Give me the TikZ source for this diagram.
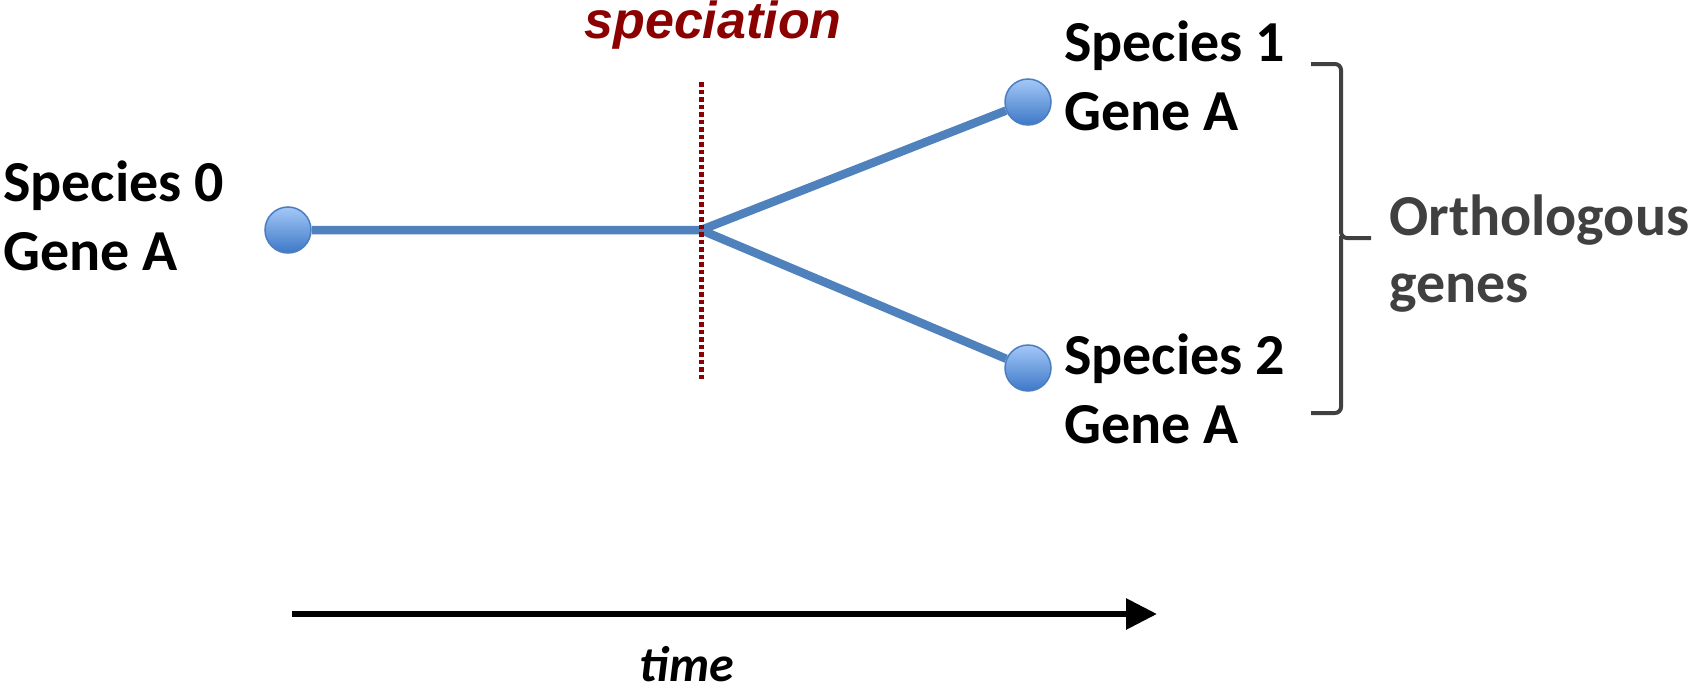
\documentclass[tikz,border=0pt]{standalone}
\usepackage{fontspec}
\setmainfont{Carlito}
\newfontfamily\arialfont{Liberation Sans}
\usepackage{xcolor}
\usetikzlibrary{arrows.meta, positioning}
\definecolor{branchblue}{HTML}{4F81BD}
\definecolor{nodetop}{HTML}{A4C8F7}
\definecolor{nodebottom}{HTML}{3D78C8}
\definecolor{nodeedge}{HTML}{4A7EBF}
\definecolor{specred}{HTML}{8B0000}
\definecolor{bracegray}{HTML}{404040}

\begin{document}
\begin{tikzpicture}[
    x=1pt, y=-1pt,
    gene/.style={circle, draw=nodeedge, line width=1.5pt, top color=nodetop, bottom color=nodebottom, minimum size=46pt, inner sep=0pt},
    genelabel/.style={anchor=north west, inner sep=0pt, align=left, font=\fontsize{58}{69}\selectfont\bfseries},
    branch/.style={line width=8.5pt, branchblue},
    event/.style={specred, line width=5pt, dash pattern=on 4.5pt off 3pt},
    eventlabel/.style={anchor=base, inner sep=0pt, text=specred, font=\arialfont\fontsize{52}{60}\selectfont\bfseries\itshape},
    timeline/.style={-{Triangle[length=31pt, width=30pt]}, line width=6pt},
    grouplabel/.style={anchor=north west, inner sep=0pt, align=left, text=bracegray, font=\fontsize{58}{67}\selectfont\bfseries},
]
\useasboundingbox (0,0) rectangle (1690,688);

% Genes
\node[gene] (g0) at (288,230) {};
\node[gene] (g1) at (1028,102) {};
\node[gene] (g2) at (1028,368) {};
\coordinate (split) at (701,230);

% Labels
\node[genelabel] (lab0) at (3,161) {Species 0\\Gene A};
\node[genelabel] (lab1) at (1064,21) {Species 1\\Gene A};
\node[genelabel] (lab2) at (1064,334) {Species 2\\Gene A};

% Branches
\draw[branch] (g0) -- (split) -- (g1);
\draw[branch] (split) -- (g2);

% Speciation event
\coordinate (evtop) at (701,82);
\coordinate (evbot) at (701,380);
\draw[event] (evtop) -- (evbot);
\node[eventlabel] (spec) at (713,38) {speciation};

% Orthologs
\draw[bracegray, line width=4pt, rounded corners=6pt] (1311,64) -- (1341,64) -- (1341,238) -- (1371,238);
\draw[bracegray, line width=4pt, rounded corners=6pt] (1341,236) -- (1341,413) -- (1311,413);
\node[grouplabel] (ortho) at (1389,195) {Orthologous\\genes};

% Time
\coordinate (t0) at (292,614);
\coordinate (t1) at (1157,614);
\draw[timeline] (t0) -- (t1);
\node[anchor=base, inner sep=0pt, font=\fontsize{50}{60}\selectfont\bfseries\itshape] (time) at (687,681) {time};

\end{tikzpicture}
\end{document}
